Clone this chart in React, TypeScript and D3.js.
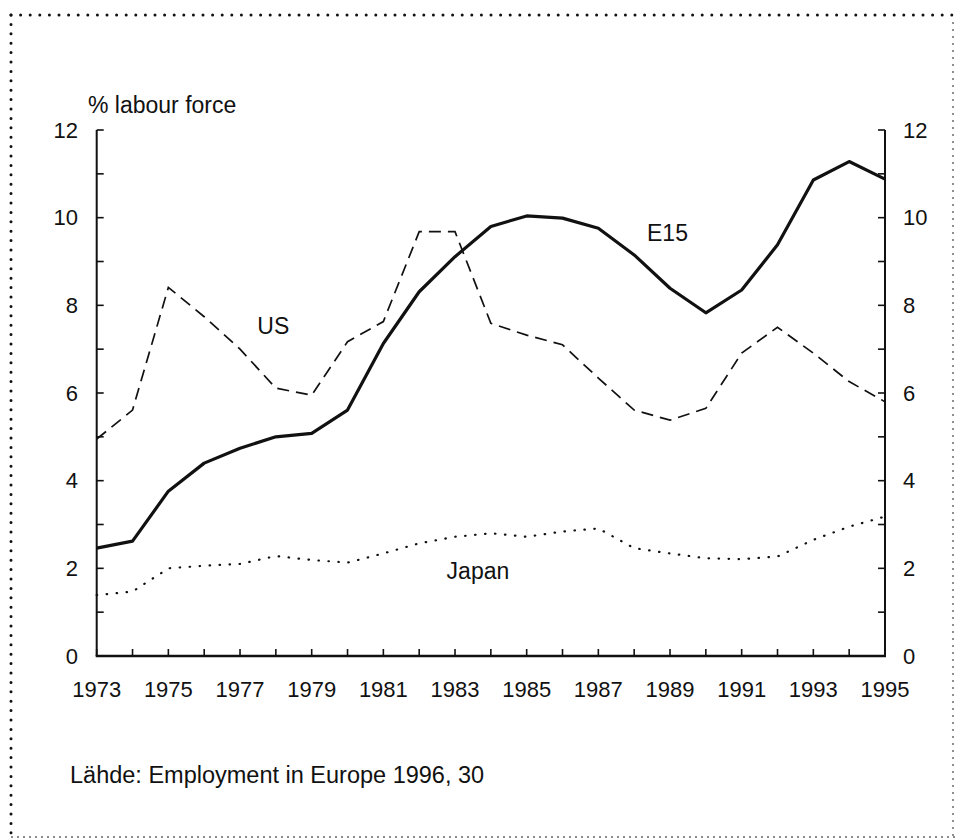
import React from "react";
import * as d3 from "d3";

const years = d3.range(1973, 1996);
const e15 = [2.46, 2.62, 3.76, 4.4, 4.74, 5.0, 5.08, 5.61, 7.13, 8.31, 9.11, 9.8, 10.04, 9.99, 9.76, 9.15, 8.39, 7.83, 8.35, 9.38, 10.86, 11.28, 10.88];
const us = [4.95, 5.61, 8.41, 7.74, 7.0, 6.11, 5.95, 7.17, 7.63, 9.68, 9.68, 7.59, 7.32, 7.1, 6.34, 5.61, 5.38, 5.65, 6.91, 7.5, 6.91, 6.26, 5.8];
const japan = [1.39, 1.47, 2.0, 2.06, 2.1, 2.28, 2.19, 2.13, 2.34, 2.57, 2.72, 2.8, 2.72, 2.84, 2.91, 2.46, 2.34, 2.23, 2.21, 2.27, 2.65, 2.95, 3.18];
const yLabelTicks = [0, 2, 4, 6, 8, 10, 12];
const yMinorTicks = d3.range(0, 13);
const xLabelYears = [1973, 1975, 1977, 1979, 1981, 1983, 1985, 1987, 1989, 1991, 1993, 1995];
const yTitle = "% labour force";
const source = "Lähde: Employment in Europe 1996, 30";
const seriesLabels = [
  { text: "US", year: 1977.93, value: 7.53 },
  { text: "E15", year: 1988.93, value: 9.65 },
  { text: "Japan", year: 1983.64, value: 1.93 },
];

export default function App() {
  const W = 959, H = 840;
  const x = d3.scaleLinear().domain([1973, 1995]).range([96.7, 885]);
  const y = d3.scaleLinear().domain([0, 12]).range([656, 130]);
  const font = "'Liberation Sans', Arial, Helvetica, sans-serif";
  const mk = (vals: number[]) =>
    d3.line<number>().x((_, i) => x(years[i])).y((d) => y(d)).curve(d3.curveLinear)(vals) || "";
  const x0 = x(1973), x1 = x(1995), yb = y(0), yt = y(12);
  return (
    <svg width={W} height={H} style={{ position: "absolute", left: 0, top: 0, background: "#fff" }}>
      {/* border */}
      <line x1={11} y1={15} x2={956} y2={15} stroke="#111" strokeWidth={3} strokeLinecap="round" strokeDasharray="0 9.6" />
      <line x1={11} y1={15} x2={11} y2={836} stroke="#111" strokeWidth={3} strokeLinecap="round" strokeDasharray="0 9.4" />
      <line x1={953} y1={22} x2={953} y2={836} stroke="#555" strokeWidth={1.3} strokeDasharray="2 5" />
      <line x1={11} y1={837} x2={956} y2={837} stroke="#666" strokeWidth={1.6} strokeDasharray="2 4" />

      {/* axes */}
      <line x1={x0} y1={yt} x2={x0} y2={yb} stroke="#111" strokeWidth={2} />
      <line x1={x1} y1={yt} x2={x1} y2={yb} stroke="#111" strokeWidth={2} />
      <line x1={x0 - 1} y1={yb} x2={x1 + 1} y2={yb} stroke="#111" strokeWidth={2.6} />
      {yMinorTicks.map((t) => (
        <g key={"yt" + t}>
          <line x1={x0} x2={x0 + 7} y1={y(t)} y2={y(t)} stroke="#111" strokeWidth={1.6} />
          <line x1={x1} x2={x1 - 7} y1={y(t)} y2={y(t)} stroke="#111" strokeWidth={1.6} />
        </g>
      ))}
      {years.map((yr) => (
        <line key={"xt" + yr} x1={x(yr)} x2={x(yr)} y1={yb} y2={yb - 7} stroke="#111" strokeWidth={1.6} />
      ))}
      {yLabelTicks.map((t) => (
        <g key={"yl" + t} fontFamily={font} fontSize={22} fill="#111">
          <text x={78} y={y(t)} textAnchor="end" dominantBaseline="central">{t}</text>
          <text x={903} y={y(t)} textAnchor="start" dominantBaseline="central">{t}</text>
        </g>
      ))}
      {xLabelYears.map((yr) => (
        <text key={"xl" + yr} x={x(yr)} y={697} textAnchor="middle" fontFamily={font} fontSize={22} fill="#111">{yr}</text>
      ))}
      <text x={88} y={113} fontFamily={font} fontSize={23} fill="#111">{yTitle}</text>

      {/* series */}
      <path d={mk(japan)} fill="none" stroke="#111" strokeWidth={2.2} strokeLinecap="round" strokeDasharray="0.5 9.5" />
      <path d={mk(us)} fill="none" stroke="#111" strokeWidth={1.7} strokeDasharray="12 7" />
      <path d={mk(e15)} fill="none" stroke="#111" strokeWidth={3.2} strokeLinejoin="round" />

      {seriesLabels.map((l) => (
        <text key={l.text} x={x(l.year)} y={y(l.value)} textAnchor="middle" dominantBaseline="central" fontFamily={font} fontSize={23} fill="#111">{l.text}</text>
      ))}

      <text x={70} y={783} fontFamily={font} fontSize={23.5} fill="#111">{source}</text>
    </svg>
  );
}
